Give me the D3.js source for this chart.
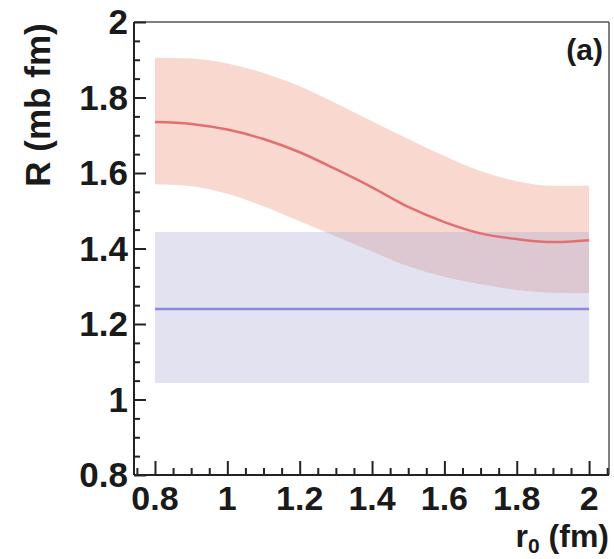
<!DOCTYPE html>
<html><head><meta charset="utf-8">
<script src="https://cdn.jsdelivr.net/npm/d3@7"></script>
<style>
body{margin:0;background:#fff;}
text{font-family:"Liberation Sans",Arial,Helvetica,sans-serif;font-weight:bold;fill:#1a1a1a;}
</style></head><body>
<svg id="chart" width="614" height="559"></svg>
<script>
// data
const r0 = [0.8,0.9,1.0,1.1,1.2,1.3,1.4,1.5,1.6,1.7,1.8,1.9,2.0];
const redCentral = [1.735,1.730,1.715,1.690,1.655,1.610,1.562,1.510,1.470,1.440,1.425,1.417,1.422];
const redUpper   = [1.905,1.903,1.890,1.865,1.830,1.785,1.737,1.690,1.645,1.605,1.578,1.566,1.566];
const redLower   = [1.570,1.565,1.545,1.512,1.472,1.432,1.392,1.353,1.325,1.305,1.290,1.283,1.282];
const blueCentral = 1.24, blueUpper = 1.444, blueLower = 1.044;
const xTicks = [0.8,1,1.2,1.4,1.6,1.8,2];
const yTicks = [0.8,1,1.2,1.4,1.6,1.8,2];
const xLabel = "r", xSub = "0", xUnit = " (fm)";
const yLabel = "R (mb fm)";
const panel = "(a)";

const svg = d3.select("#chart");
const L=134,R=609,T=22,B=475;
const x = d3.scaleLinear().domain([0.742,2.055]).range([L,R]);
const y = d3.scaleLinear().domain([0.8,2.0]).range([B,T]);

const redData = r0.map((v,i)=>({x:v,c:redCentral[i],u:redUpper[i],l:redLower[i]}));
const blueData = [r0[0], r0[r0.length-1]].map(v=>({x:v,c:blueCentral,u:blueUpper,l:blueLower}));

const area = d3.area().x(d=>x(d.x)).y0(d=>y(d.l)).y1(d=>y(d.u)).curve(d3.curveMonotoneX);
const line = d3.line().x(d=>x(d.x)).y(d=>y(d.c)).curve(d3.curveMonotoneX);

svg.append("path").datum(redData).attr("d",area).attr("fill","#f8d8cf");
svg.append("path").datum(blueData).attr("d",area.curve(d3.curveLinear)).attr("fill","#acacd4").attr("fill-opacity",0.35);
svg.append("path").datum(blueData).attr("d",d3.line().x(d=>x(d.x)).y(d=>y(d.c))).attr("fill","none").attr("stroke","#8a8ad6").attr("stroke-width",2.5);
svg.append("path").datum(redData).attr("d",line).attr("fill","none").attr("stroke","#e07070").attr("stroke-width",2.5);

// frame
svg.append("line").attr("x1",L).attr("x2",R).attr("y1",T).attr("y2",T).attr("stroke","#555").attr("stroke-width",1.5);
svg.append("line").attr("x1",R).attr("x2",R).attr("y1",T).attr("y2",B).attr("stroke","#555").attr("stroke-width",1.5);

// axes (inward ticks)
const xMinor = d3.range(0.75,2.051,0.05).map(v=>+v.toFixed(2));
const yMinor = d3.range(0.8,2.001,0.05).map(v=>+v.toFixed(2));
const gx = svg.append("g").attr("transform",`translate(0,${B})`);
gx.call(d3.axisTop(x).tickValues(xMinor).tickSize(7).tickFormat(""));
gx.call(g=>g.selectAll(".tick").filter(d=>xTicks.some(t=>Math.abs(t-d)<1e-6)).select("line").attr("y2",-14));
gx.selectAll(".domain").attr("d",`M${L},0H${R}`);
gx.selectAll("line,path").attr("stroke","#222").attr("stroke-width",2);
const gy = svg.append("g").attr("transform",`translate(${L},0)`);
gy.call(d3.axisRight(y).tickValues(yMinor).tickSize(6).tickFormat(""));
gy.call(g=>g.selectAll(".tick").filter(d=>yTicks.some(t=>Math.abs(t-d)<1e-6)).select("line").attr("x2",12));
gy.selectAll(".domain").attr("d",`M0,${T}V${B}`);
gy.selectAll("line,path").attr("stroke","#222").attr("stroke-width",2);

// tick labels
svg.append("g").selectAll("text").data(xTicks).join("text")
  .attr("x",d=>x(d)).attr("y",510).attr("text-anchor","middle").attr("font-size",34)
  .text(d=>d3.format("")(d));
svg.append("g").selectAll("text").data(yTicks).join("text")
  .attr("x",128).attr("y",d=>y(d)+12).attr("text-anchor","end").attr("font-size",35)
  .text(d=>d3.format("")(d));

// axis titles
svg.append("text").attr("transform","translate(50,105) rotate(-90)").attr("text-anchor","middle").attr("font-size",35).text(yLabel);
const xt = svg.append("text").attr("x",609).attr("y",547).attr("text-anchor","end").attr("font-size",32);
xt.append("tspan").text(xLabel);
xt.append("tspan").attr("font-size",21).attr("dy",6).text(xSub);
xt.append("tspan").attr("dy",-6).text(xUnit);

svg.append("text").attr("x",603).attr("y",60).attr("text-anchor","end").attr("font-size",30).text(panel);
</script></body></html>
